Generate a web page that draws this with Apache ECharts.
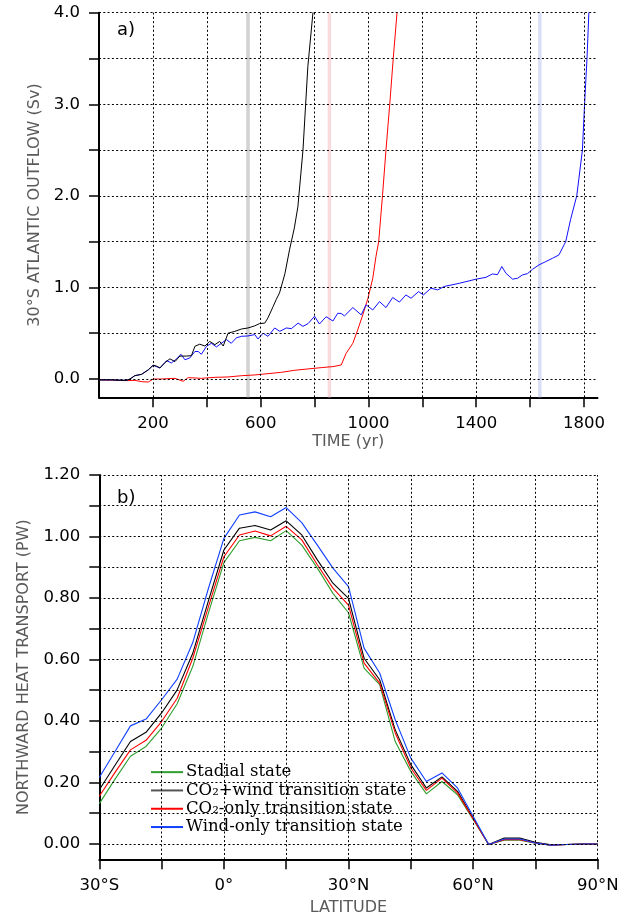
<!DOCTYPE html>
<html>
<head>
<meta charset="utf-8">
<script src="https://cdn.jsdelivr.net/npm/echarts@6/dist/echarts.min.js"></script>
<style>
html,body{margin:0;padding:0;background:#fff;}
#chart{width:626px;height:918px;}
</style>
</head>
<body>
<div id="chart"></div>
<script>
// ---------- Panel a) 30°S Atlantic outflow (Sv) vs time (yr) ----------
const timeCO2Wind = [0, 20, 50, 80, 102, 115, 133, 158, 183, 201, 214, 226, 245, 263, 282, 300, 325, 343, 356, 374, 393, 411, 430, 448, 461, 479, 504, 529, 553, 578, 596, 615, 627, 646, 658, 670, 690, 707, 725, 738, 757, 775, 794, 800];
const flowCO2Wind = [-0.01, -0.01, -0.01, -0.015, -0.015, 0.0, 0.036, 0.051, 0.10, 0.15, 0.14, 0.12, 0.18, 0.22, 0.19, 0.25, 0.25, 0.255, 0.357, 0.38, 0.36, 0.41, 0.375, 0.41, 0.36, 0.50, 0.52, 0.546, 0.557, 0.58, 0.605, 0.61, 0.667, 0.79, 0.87, 0.94, 1.15, 1.41, 1.65, 1.88, 2.50, 3.41, 4.0, 4.3];

const timeWindOnly = [0, 50, 102, 115, 133, 158, 183, 201, 226, 251, 269, 288, 304, 319, 337, 356, 368, 380, 399, 417, 436, 454, 473, 491, 510, 529, 553, 578, 590, 609, 627, 652, 671, 695, 714, 739, 757, 776, 800, 818, 843, 868, 886, 899, 911, 942, 973, 991, 1016, 1041, 1065, 1090, 1115, 1139, 1158, 1186, 1204, 1232, 1257, 1281, 1337, 1399, 1436, 1460, 1479, 1495, 1510, 1535, 1553, 1572, 1590, 1609, 1633, 1658, 1683, 1707, 1726, 1732, 1750, 1773, 1794, 1802, 1811, 1818, 1825];
const flowWindOnly = [-0.01, -0.01, -0.015, 0.0, 0.036, 0.051, 0.10, 0.15, 0.12, 0.20, 0.175, 0.22, 0.27, 0.21, 0.23, 0.30, 0.30, 0.27, 0.357, 0.39, 0.35, 0.39, 0.43, 0.39, 0.45, 0.466, 0.47, 0.485, 0.437, 0.50, 0.466, 0.557, 0.52, 0.557, 0.55, 0.61, 0.575, 0.605, 0.685, 0.60, 0.68, 0.633, 0.718, 0.715, 0.689, 0.78, 0.70, 0.81, 0.754, 0.845, 0.78, 0.89, 0.84, 0.918, 0.882, 0.954, 0.918, 0.991, 0.973, 1.01, 1.045, 1.09, 1.11, 1.147, 1.14, 1.228, 1.155, 1.09, 1.10, 1.137, 1.15, 1.198, 1.246, 1.282, 1.318, 1.355, 1.465, 1.5, 1.74, 2.0, 2.5, 3.0, 3.5, 4.0, 4.3];

const timeCO2Only = [0, 50, 102, 133, 160, 183, 201, 232, 282, 312, 331, 380, 430, 479, 529, 578, 627, 677, 726, 776, 825, 868, 899, 917, 942, 960, 979, 998, 1016, 1028, 1038, 1052, 1065, 1079, 1092, 1106, 1112];
const flowCO2Only = [-0.01, -0.012, -0.018, -0.015, -0.03, -0.033, 0.0, 0.0, 0.007, -0.025, 0.015, 0.007, 0.018, 0.022, 0.036, 0.044, 0.058, 0.073, 0.095, 0.11, 0.124, 0.135, 0.153, 0.28, 0.39, 0.536, 0.70, 0.88, 1.10, 1.34, 1.5, 2.0, 2.5, 3.0, 3.5, 4.0, 4.2];

const bandYears = [553, 855, 1636];
const bandColors = ['#d2d2d2', '#f9dadd', '#dadff6'];

const timeTicks = [200, 400, 600, 800, 1000, 1200, 1400, 1600, 1800];
const timeLabels = [200, 600, 1000, 1400, 1800];
const flowTicks = [0, 0.5, 1.0, 1.5, 2.0, 2.5, 3.0, 3.5, 4.0];
const flowLabels = [0, 1, 2, 3, 4];

// ---------- Panel b) northward heat transport (PW) vs latitude ----------
const latitudes = [-30, -26.25, -22.5, -18.75, -15, -11.25, -7.5, -3.75, 0, 3.75, 7.5, 11.25, 15, 18.75, 22.5, 26.25, 30, 33.75, 37.5, 41.25, 45, 48.75, 52.5, 56.25, 60, 63.75, 67.5, 71.25, 75, 78.75, 82.5, 86.25, 90];
const heatStadial = [0.131, 0.21, 0.285, 0.317, 0.377, 0.456, 0.577, 0.75, 0.915, 0.986, 0.997, 0.986, 1.019, 0.972, 0.897, 0.815, 0.752, 0.572, 0.518, 0.333, 0.236, 0.163, 0.203, 0.160, 0.080, -0.002, 0.012, 0.012, 0.002, -0.004, -0.002, 0.0, 0.0];
const heatCO2Wind = [0.176, 0.255, 0.333, 0.363, 0.426, 0.501, 0.620, 0.79, 0.956, 1.027, 1.036, 1.021, 1.051, 1.005, 0.924, 0.848, 0.799, 0.604, 0.534, 0.371, 0.258, 0.182, 0.218, 0.171, 0.084, -0.002, 0.019, 0.019, 0.005, -0.003, -0.002, 0.0, 0.0];
const heatCO2Only = [0.155, 0.232, 0.306, 0.337, 0.398, 0.474, 0.604, 0.77, 0.934, 1.005, 1.018, 1.002, 1.033, 0.989, 0.908, 0.832, 0.777, 0.588, 0.523, 0.361, 0.247, 0.174, 0.214, 0.166, 0.082, -0.002, 0.014, 0.014, 0.003, -0.004, -0.002, 0.0, 0.0];
const heatWindOnly = [0.216, 0.30, 0.384, 0.406, 0.469, 0.536, 0.655, 0.83, 0.994, 1.070, 1.080, 1.064, 1.094, 1.045, 0.972, 0.897, 0.837, 0.637, 0.556, 0.404, 0.279, 0.203, 0.231, 0.182, 0.090, -0.002, 0.016, 0.016, 0.003, -0.004, -0.002, 0.0, 0.0];

const latTicks = [-30, -15, 0, 15, 30, 45, 60, 75, 90];
const latLabels = [-30, 0, 30, 60, 90];
const latLabelText = ['30°S', '0°', '30°N', '60°N', '90°N'];
const heatTicks = [0, 0.1, 0.2, 0.3, 0.4, 0.5, 0.6, 0.7, 0.8, 0.9, 1.0, 1.1, 1.2];
const heatLabels = [0, 0.2, 0.4, 0.6, 0.8, 1.0, 1.2];

const legendNames = ['Stadial state', 'CO₂+wind transition state', 'CO₂-only transition state', 'Wind-only transition state'];

// ---------- build ----------
const zip = (xs, ys) => xs.map((x, i) => [x, ys[i]]);
const SANS = 'DejaVu Sans';
const dotted = { color: '#000', width: 1, type: [2, 2.3] };

function axisCommon(tickVals, labelVals, fmt, margin) {
  return {
    axisLine: { show: true, onZero: false, lineStyle: { color: '#000', width: 2 } },
    axisTick: { show: true, length: 10, inside: false, customValues: tickVals, lineStyle: { color: '#000', width: 1.5 } },
    axisLabel: { show: true, customValues: labelVals, formatter: fmt, margin: margin, color: '#000', fontFamily: SANS, fontSize: 16.5 },
    splitLine: { show: false }
  };
}

function gridSeries(xi, xVals, yVals, extra) {
  const data = [];
  yVals.forEach(v => data.push({ yAxis: v }));
  xVals.forEach(v => data.push({ xAxis: v }));
  const s = {
    type: 'line', name: 'grid' + xi, xAxisIndex: xi, yAxisIndex: xi, data: [], z: 1,
    silent: true,
    markLine: { silent: true, symbol: ['none', 'none'], label: { show: false }, lineStyle: dotted, animation: false, emphasis: { disabled: true }, data: data }
  };
  return Object.assign(s, extra || {});
}

const chart = echarts.init(document.getElementById('chart'), null, { renderer: 'canvas' });

const option = {
  animation: false,
  backgroundColor: '#fff',
  title: [
    { text: 'a)', left: 112, top: 16, textStyle: { fontFamily: SANS, fontSize: 18, fontWeight: 'normal', color: '#000' } },
    { text: 'b)', left: 112, top: 484, textStyle: { fontFamily: SANS, fontSize: 18, fontWeight: 'normal', color: '#000' } }
  ],
  grid: [
    { left: 99, top: 12.7, width: 498.5, height: 384.6 },
    { left: 99.3, top: 475, width: 498.4, height: 384.3 }
  ],
  legend: {
    data: legendNames,
    orient: 'vertical',
    left: 151, top: 763,
    icon: 'rect', itemWidth: 32, itemHeight: 2, itemGap: 0,
    selectedMode: false,
    textStyle: { fontFamily: 'DejaVu Serif', fontSize: 16.5, color: '#000', lineHeight: 18.3, padding: [0, 0, 0, -2] },
    padding: 0
  },
  xAxis: [
    Object.assign({
      type: 'value', gridIndex: 0, min: 0, max: 1850,
      name: 'TIME (yr)', nameLocation: 'middle', nameGap: 37,
      nameTextStyle: { fontFamily: SANS, fontSize: 16, color: '#5a5a5a' }
    }, axisCommon(timeTicks, timeLabels, v => String(v), 18)),
    Object.assign({
      type: 'value', gridIndex: 1, min: -30, max: 90,
      name: 'LATITUDE', nameLocation: 'middle', nameGap: 41,
      nameTextStyle: { fontFamily: SANS, fontSize: 16, color: '#5a5a5a' }
    }, axisCommon(latTicks, latLabels, v => latLabelText[latLabels.indexOf(v)], 18))
  ],
  yAxis: [
    Object.assign({
      type: 'value', gridIndex: 0, min: -0.2, max: 4.0,
      name: '30°S ATLANTIC OUTFLOW (Sv)', nameLocation: 'middle', nameGap: 56, nameRotate: 90,
      nameTextStyle: { fontFamily: SANS, fontSize: 16, color: '#5a5a5a' }
    }, axisCommon(flowTicks, flowLabels, v => Number(v).toFixed(1), 19)),
    Object.assign({
      type: 'value', gridIndex: 1, min: -0.05, max: 1.2,
      name: 'NORTHWARD HEAT TRANSPORT (PW)', nameLocation: 'middle', nameGap: 67, nameRotate: 90,
      nameTextStyle: { fontFamily: SANS, fontSize: 16, color: '#5a5a5a' }
    }, axisCommon(heatTicks, heatLabels, v => Number(v).toFixed(2), 19))
  ],
  series: [
    gridSeries(0, timeTicks, flowTicks, {
      markArea: {
        silent: true,
        data: bandYears.map((y, i) => [{ xAxis: y - 6.5, itemStyle: { color: bandColors[i] } }, { xAxis: y + 6.5 }])
      }
    }),
    gridSeries(1, latTicks.slice(1), heatTicks),
    { type: 'line', name: 'a-co2only', xAxisIndex: 0, yAxisIndex: 0, data: zip(timeCO2Only, flowCO2Only), showSymbol: false, clip: true, z: 3, lineStyle: { color: '#ff0000', width: 1 }, itemStyle: { color: '#ff0000' } },
    { type: 'line', name: 'a-windonly', xAxisIndex: 0, yAxisIndex: 0, data: zip(timeWindOnly, flowWindOnly), showSymbol: false, clip: true, z: 3, lineStyle: { color: '#1010ff', width: 1 }, itemStyle: { color: '#1010ff' } },
    { type: 'line', name: 'a-co2wind', xAxisIndex: 0, yAxisIndex: 0, data: zip(timeCO2Wind, flowCO2Wind), showSymbol: false, clip: true, z: 4, lineStyle: { color: '#000', width: 1 }, itemStyle: { color: '#000' } },
    { type: 'line', name: legendNames[0], xAxisIndex: 1, yAxisIndex: 1, data: zip(latitudes, heatStadial), showSymbol: false, z: 3, lineStyle: { color: '#2e9e2e', width: 1.1 }, itemStyle: { color: '#2e9e2e' } },
    { type: 'line', name: legendNames[1], xAxisIndex: 1, yAxisIndex: 1, data: zip(latitudes, heatCO2Wind), showSymbol: false, z: 3, lineStyle: { color: '#000', width: 1.1 }, itemStyle: { color: '#555' } },
    { type: 'line', name: legendNames[2], xAxisIndex: 1, yAxisIndex: 1, data: zip(latitudes, heatCO2Only), showSymbol: false, z: 3, lineStyle: { color: '#ff0000', width: 1.1 }, itemStyle: { color: '#ff0000' } },
    { type: 'line', name: legendNames[3], xAxisIndex: 1, yAxisIndex: 1, data: zip(latitudes, heatWindOnly), showSymbol: false, z: 3, lineStyle: { color: '#1040ff', width: 1.1 }, itemStyle: { color: '#1040ff' } }
  ]
};
chart.setOption(option);
</script>
</body>
</html>
